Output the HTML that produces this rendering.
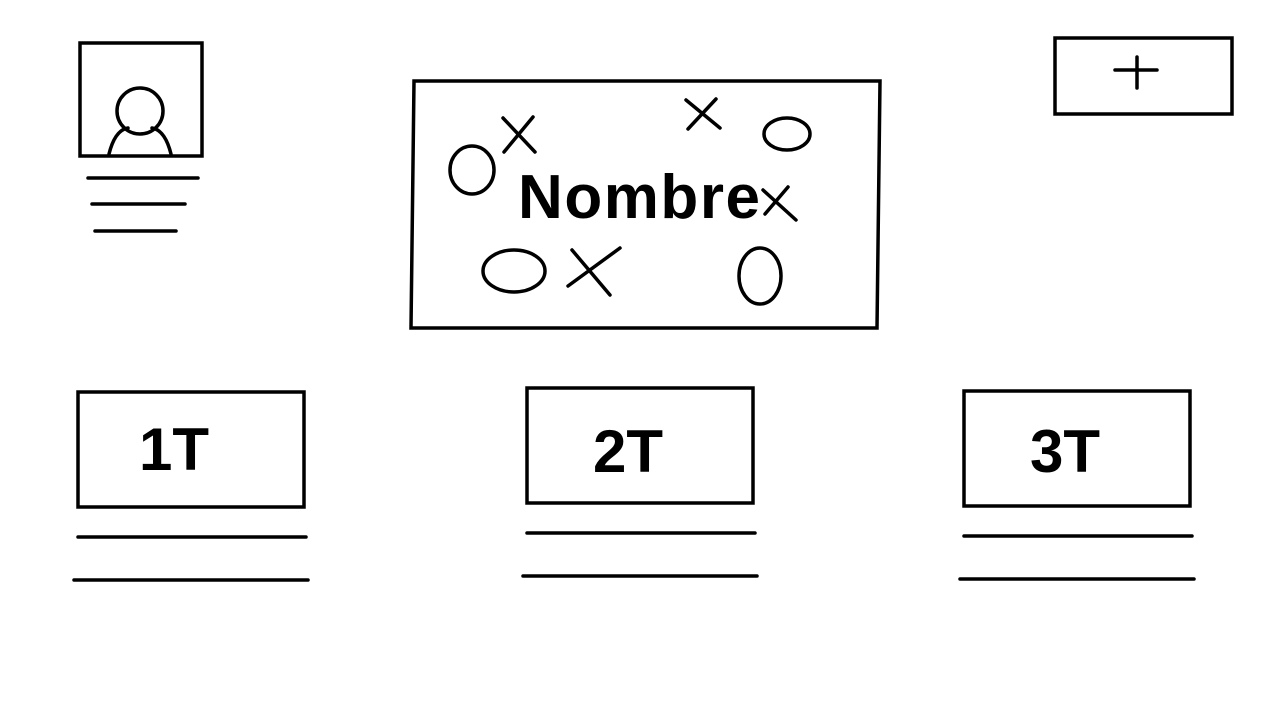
<!DOCTYPE html>
<html>
<head>
<meta charset="utf-8">
<style>
html,body{margin:0;padding:0;background:#fff;width:1280px;height:720px;overflow:hidden}
svg{display:block}
text{font-family:"Liberation Sans",sans-serif;font-weight:bold;fill:#000}
</style>
</head>
<body>
<svg width="1280" height="720" viewBox="0 0 1280 720" fill="none" stroke="#000" stroke-width="3.5" stroke-linecap="round">
  <g>
    <rect x="80" y="43" width="122" height="113"/>
    <circle cx="140" cy="111" r="23"/>
    <path d="M109,154 Q115,130 128,128 M171,154 Q165,130 152,128"/>
  </g>
  <g>
    <line x1="88" y1="178" x2="198" y2="178"/>
    <line x1="92" y1="204" x2="185" y2="204"/>
    <line x1="95" y1="231" x2="176" y2="231"/>
  </g>
  <g>
    <polygon points="414,81 880,81 877,328 411,328"/>
    <ellipse cx="472" cy="170" rx="22" ry="24"/>
    <ellipse cx="787" cy="134" rx="23" ry="16"/>
    <ellipse cx="514" cy="271" rx="31" ry="21"/>
    <ellipse cx="760" cy="276" rx="21" ry="28"/>
    <path d="M503,118 L535,152 M504,152 L533,117"/>
    <path d="M686,100 L720,128 M688,129 L716,99"/>
    <path d="M763,190 L796,220 M765,214 L788,187"/>
    <path d="M572,250 L610,295 M568,286 L620,248"/>
    <text x="518" y="218" font-size="62" textLength="242" stroke="none">Nombre</text>
  </g>
  <g>
    <rect x="1055" y="38" width="177" height="76"/>
    <path d="M1115,70 L1157,70 M1137,57 L1137,88"/>
  </g>
  <g>
    <rect x="78" y="392" width="226" height="115"/>
    <text x="139" y="470" font-size="60" stroke="none">1T</text>
    <line x1="78" y1="537" x2="306" y2="537"/>
    <line x1="74" y1="580" x2="308" y2="580"/>
  </g>
  <g>
    <rect x="527" y="388" width="226" height="115"/>
    <text x="593" y="472" font-size="60" stroke="none">2T</text>
    <line x1="527" y1="533" x2="755" y2="533"/>
    <line x1="523" y1="576" x2="757" y2="576"/>
  </g>
  <g>
    <rect x="964" y="391" width="226" height="115"/>
    <text x="1030" y="472" font-size="60" stroke="none">3T</text>
    <line x1="964" y1="536" x2="1192" y2="536"/>
    <line x1="960" y1="579" x2="1194" y2="579"/>
  </g>
</svg>
</body>
</html>
